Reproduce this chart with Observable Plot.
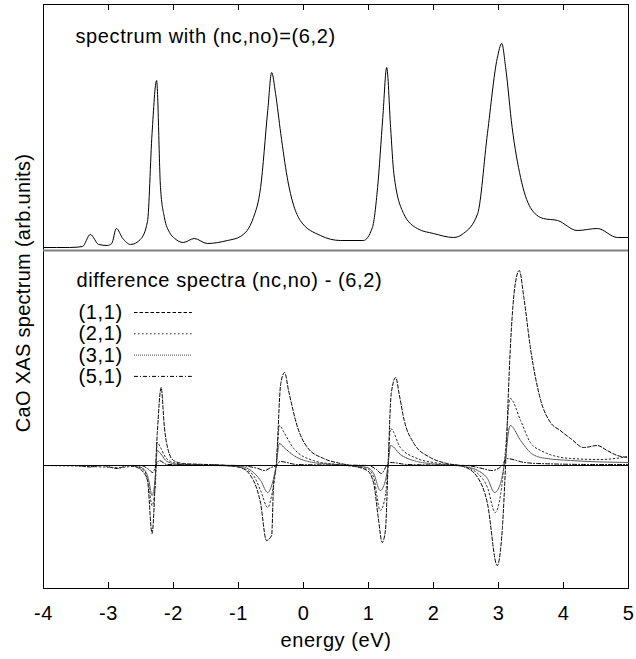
<!DOCTYPE html>
<html>
<head>
<meta charset="utf-8">
<script src="https://cdn.jsdelivr.net/npm/d3@7"></script>
<script src="https://cdn.jsdelivr.net/npm/@observablehq/plot@0.6"></script>
<style>
  html, body { margin: 0; padding: 0; background: #fff; }
  #wrap { position: relative; width: 636px; height: 659px; background: #fff; overflow: hidden; }
  #wrap svg { position: absolute; left: 0; background: transparent; }
  #ylab { position: absolute; left: 23px; top: 293px; transform: translate(-50%, -50%) rotate(-90deg);
          white-space: nowrap; font: 20px "Liberation Sans", Arial, sans-serif; letter-spacing: 0.3px; color: #000; }
</style>
</head>
<body>
<div id="wrap"><div id="ylab">CaO XAS spectrum (arb.units)</div></div>
<script>
// ---- data ----
const xTicks = [-4, -3, -2, -1, 0, 1, 2, 3, 4, 5];

// top panel: spectrum with (nc,no)=(6,2)
const specE = [-4.0,-3.6,-3.4,-3.28,-3.15,-3.02,-2.95,-2.88,-2.78,-2.66,-2.51,-2.4,-2.33,-2.26,-2.2,-2.14,-2.06,-1.98,-1.85,-1.68,-1.48,-1.17,-0.97,-0.77,-0.66,-0.55,-0.49,-0.43,-0.35,-0.25,-0.05,0.26,0.57,0.92,1.06,1.14,1.22,1.28,1.34,1.39,1.54,1.75,2.0,2.31,2.46,2.68,2.83,2.98,3.05,3.11,3.21,3.34,3.49,3.69,3.91,4.21,4.52,4.83,5.0];
const specI = [0,0,0.01,0.13,0.03,0.02,0.04,0.19,0.09,0.03,0.08,0.26,1.14,1.67,0.6,0.3,0.15,0.09,0.05,0.09,0.04,0.07,0.11,0.30,0.60,1.37,1.75,1.54,1.14,0.70,0.27,0.12,0.07,0.07,0.20,0.60,1.30,1.80,1.20,0.74,0.34,0.19,0.14,0.10,0.14,0.34,1.14,1.89,2.04,1.80,1.20,0.70,0.40,0.29,0.27,0.17,0.19,0.10,0.10];

// bottom panel: difference spectra (nc,no) - (6,2)
const seriesNames = ["(1,1)", "(2,1)", "(3,1)", "(5,1)"];

const e11 = [-4.0,-3.5,-3.28,-3.1,-2.86,-2.7,-2.56,-2.46,-2.4,-2.33,-2.25,-2.19,-2.14,-2.08,-2.0,-1.85,-1.5,-1.2,-0.97,-0.77,-0.66,-0.57,-0.49,-0.46,-0.42,-0.35,-0.29,-0.23,-0.09,0.06,0.31,0.57,0.72,0.98,1.08,1.15,1.21,1.26,1.3,1.35,1.42,1.47,1.55,1.70,1.95,2.21,2.46,2.68,2.83,2.98,3.06,3.11,3.18,3.25,3.32,3.39,3.49,3.65,3.80,3.95,4.11,4.31,4.52,4.67,4.83,5.0];
const d11 = [0,0,-0.015,0,-0.03,0,-0.02,-0.07,-0.15,-0.68,0.32,0.78,0.38,0.15,0.05,0.02,0.01,0,-0.02,-0.15,-0.38,-0.75,-0.70,-0.18,0,0.82,0.93,0.75,0.38,0.18,0.07,0.02,0,-0.05,-0.18,-0.52,-0.77,-0.65,-0.02,0.72,0.88,0.72,0.45,0.22,0.08,0.02,-0.01,-0.12,-0.38,-1.0,-0.62,0.02,1.15,1.78,1.95,1.68,1.18,0.65,0.43,0.35,0.27,0.18,0.20,0.15,0.10,0.08];

const e21 = [-4.0,-3.28,-2.86,-2.6,-2.45,-2.38,-2.33,-2.28,-2.25,-2.2,-2.12,-2.0,-1.8,-1.2,-0.97,-0.77,-0.66,-0.55,-0.49,-0.42,-0.37,-0.3,-0.15,0.15,0.5,0.98,1.08,1.18,1.26,1.3,1.34,1.49,1.75,2.1,2.46,2.68,2.83,2.95,3.03,3.1,3.18,3.34,3.49,3.65,4.11,4.57,5.0];
const d21 = [0,-0.01,-0.02,-0.01,-0.05,-0.2,-0.4,-0.2,0.23,0.18,0.08,0.03,0.01,0,-0.02,-0.1,-0.25,-0.42,-0.3,0,0.40,0.33,0.17,0.05,0.01,-0.03,-0.12,-0.45,-0.3,0,0.37,0.18,0.07,0.02,-0.01,-0.08,-0.22,-0.47,-0.3,0.1,0.67,0.45,0.23,0.15,0.07,0.06,0.09];

const e31 = [-4.0,-2.6,-2.45,-2.38,-2.33,-2.28,-2.25,-2.2,-2.1,-1.9,-0.97,-0.77,-0.66,-0.55,-0.49,-0.42,-0.37,-0.3,-0.15,0.15,0.5,0.98,1.08,1.18,1.26,1.3,1.34,1.49,1.75,2.1,2.46,2.68,2.83,2.94,3.03,3.1,3.18,3.34,3.49,3.65,4.11,5.0];
const d31 = [0,0,-0.04,-0.15,-0.3,-0.12,0.15,0.12,0.04,0.01,-0.01,-0.07,-0.15,-0.27,-0.2,0,0.22,0.18,0.10,0.03,0.01,-0.02,-0.08,-0.25,-0.15,0,0.20,0.11,0.04,0.01,-0.01,-0.05,-0.13,-0.27,-0.18,0.05,0.40,0.25,0.13,0.08,0.05,0.03];

const e51 = [-4.0,-2.5,-2.38,-2.32,-2.27,-2.22,-2.1,-1.0,-0.7,-0.6,-0.5,-0.42,-0.36,-0.1,1.0,1.12,1.2,1.28,1.34,1.6,2.5,2.75,2.9,3.02,3.06,3.12,3.4,3.6,4.5,5.0];
const d51 = [0,0,-0.04,-0.07,0,0.05,0.01,0,-0.03,-0.05,-0.02,0,0.04,0.01,0,-0.04,-0.08,0,0.03,0.01,0,-0.03,-0.05,-0.02,0,0.07,0.03,0.02,0.01,0.01];

// ---- styles / layout ----
const FONT = '"Liberation Sans", Arial, sans-serif';
const W = 636, ML = 43, MR = 8;
const xDomain = [-4, 5];
const topYDomain = [-0.03, 2.43];
const botYDomain = [-1.23, 2.15];
const dashes = ["3.5,2", "1.5,2.5", "1,1", "4,2,1,2"];
const strokes = ["#000", "#222", "#444", "#000"];
// legend placement (in panel data units)
const legendTextX = -3.46, legendLineX = [-2.6, -1.71], legendTopY = 1.53, legendStep = 0.213;

const rows = (E, V, k) => E.map((e, i) => ({e, v: V[i], k}));
const spec = rows(specE, specI, "spec");
const diffs = [rows(e11, d11, 0), rows(e21, d21, 1), rows(e31, d31, 2), rows(e51, d51, 3)];
const legend = seriesNames.map((name, i) => ({name, i, y: legendTopY - i * legendStep}));

const wrap = document.getElementById("wrap");
const svgStyle = {fontFamily: FONT, fontSize: "20px", letterSpacing: "0.6px", background: "transparent", color: "#000"};

// ---- top panel ----
const topH = 250;
const topPlot = Plot.plot({
  width: W, height: topH,
  marginLeft: ML, marginRight: MR, marginTop: 4, marginBottom: 0,
  style: svgStyle,
  x: {domain: xDomain, axis: null},
  y: {domain: topYDomain, axis: null},
  marks: [
    Plot.frame({stroke: "#000"}),
    Plot.tickX(xTicks, {x: d => d, stroke: "#000", insetBottom: topH - 4 - 6}),
    Plot.line(spec, {x: "e", y: "v", stroke: "#000", strokeWidth: 1, curve: "monotone-x"}),
    Plot.text(["spectrum with (nc,no)=(6,2)"], {frameAnchor: "top-left", dx: 32, dy: 32, textAnchor: "start", lineAnchor: "middle", fontSize: 20, fill: "#000"})
  ]
});
topPlot.style.top = "0px";

// ---- bottom panel ----
const botH = 659 - 246, botMT = 4, botMB = 71;
const bottomPlot = Plot.plot({
  width: W, height: botH,
  marginLeft: ML, marginRight: MR, marginTop: botMT, marginBottom: botMB,
  style: svgStyle,
  x: {domain: xDomain, label: null},
  y: {domain: botYDomain, axis: null},
  marks: [
    Plot.frame({stroke: "#000"}),
    Plot.tickX(xTicks, {x: d => d, stroke: "#000", insetTop: botH - botMT - botMB - 6}),
    Plot.axisX(xTicks, {tickSize: 0, tickPadding: 17, fontSize: 20, label: null, tickFormat: d => String(d), fill: "#000"}),
    Plot.text(["energy (eV)"], {frameAnchor: "bottom", dy: 52, lineAnchor: "middle", textAnchor: "middle", fontSize: 20, fill: "#000"}),
    ...diffs.map((d, i) => Plot.line(d, {x: "e", y: "v", stroke: strokes[i], strokeWidth: 1, strokeDasharray: dashes[i], curve: "monotone-x"})),
    Plot.ruleY([0], {stroke: "#000", strokeWidth: 1}),
    Plot.ruleY([botYDomain[1]], {stroke: "#808080", strokeWidth: 2}),
    Plot.text(["difference spectra (nc,no) - (6,2)"], {frameAnchor: "top-left", dx: 33, dy: 30, textAnchor: "start", lineAnchor: "middle", fontSize: 20, fill: "#000"}),
    Plot.text(legend, {x: () => legendTextX, y: "y", text: "name", textAnchor: "start", lineAnchor: "middle", fontSize: 20, fill: "#000"}),
    ...legend.map(l => Plot.ruleY([l.y], {x1: legendLineX[0], x2: legendLineX[1], stroke: strokes[l.i], strokeDasharray: dashes[l.i], strokeWidth: 1}))
  ]
});
bottomPlot.style.top = "246px";

wrap.appendChild(topPlot);
wrap.appendChild(bottomPlot);
</script>
</body>
</html>
